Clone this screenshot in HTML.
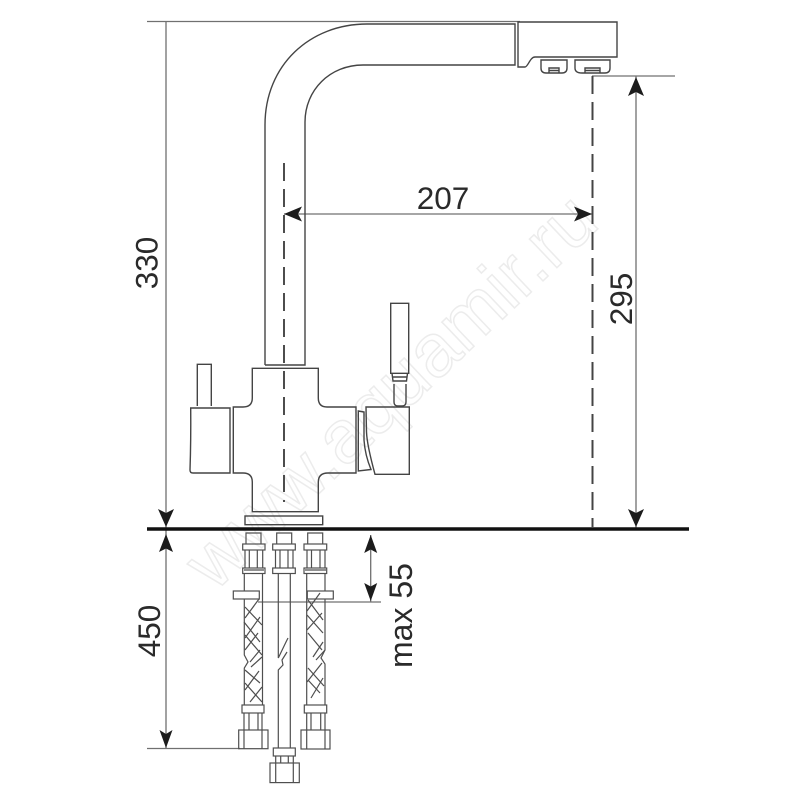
<!DOCTYPE html>
<html><head><meta charset="utf-8"><style>
html,body{margin:0;padding:0;background:#fff}
svg{display:block}
text{font-family:"Liberation Sans",sans-serif;fill:#2a2a2a;font-size:31.500px}
</style></head><body>
<svg width="800" height="800" viewBox="0 0 800 800" xmlns="http://www.w3.org/2000/svg">
<text transform="translate(408,409) rotate(-43.500)" text-anchor="middle" style="font-size:75px;fill:#fff;stroke:#ececec;stroke-width:1.500">www.aquamir.ru</text>
<g fill="none" stroke="#707070" stroke-width="1.300">
<path d="M147 21.500H520M166 21.500V528M166 530V748.500M147 748.500H240M592 76H675M636 76V528M284 214H592M370.700 535V602M258 602H381"/>
</g>
<g fill="#1c1c1c">
<path d="M166 527l-8 -18 8 4 8 -4z"/>
<path d="M166 534l-7 18 7-3.500 7 3.500z"/>
<path d="M166 748l-6.500 -18 6.500 4 6.500 -4z"/>
<path d="M636 527l-8 -18 8 4 8 -4z"/>
<path d="M636 77l-8 19 8-4 8 4z"/>
<path d="M370.700 535l-6.500 18 6.500-3.500 6.500 3.500z"/>
<path d="M370.700 601l-6.500-18 6.500 3.500 6.500-3.500z"/>
<path d="M284 214l18-7.500-4 7.500 4 7.500z"/>
<path d="M592 214l-18-7.500 4 7.500-4 7.500z"/>
</g>
<path d="M147 529H689" stroke="#111" stroke-width="3.600" fill="none"/>
<g fill="none" stroke="#444" stroke-width="1.400">
<path d="M265 365V125C265 65 310 24 367 24H515V65H363C330 65 305 90 305 122V365H265"/>
<path d="M518 22H617V57H535C530 57 528 67 525 67H518Z"/>
<path d="M541 60H567V68Q567 73 562 73H546Q541 73 541 68Z"/>
<path d="M575 60H610V68Q610 73 605 73H582Q575 73 575 68Z"/>
<path d="M549 73V68H559V73M549 70.500H559M585 73V68H600V73M585 70.500H600"/>
<path d="M252.300 368.300H318.300V398Q318.300 407 327 407H356V473H328Q318.300 473 318.300 482V511.700H252.300V482Q252.300 473 243 473H233.300V407H243Q252.300 407 252.300 398Z"/>
<path d="M190.700 408H230V473H193Q190 473 190 470Q191 440 190.700 408Z"/>
<path d="M197.300 406V364.300H211.300V406"/>
<path d="M358.300 411L364 412V440Q365 455 371 469.500L358.300 471Z"/>
<path d="M366 407H409.300V474.300H375Q367 445 366.500 432Z"/>
<path d="M390.700 373.300V303.300H408.700V373.300Z"/>
<path d="M392 373.300L393 381H406.500L407.500 373.300M392.500 377H407M394 384V402Q394 406 398 406H402Q406 406 406 402V384"/>
<rect x="245" y="516" width="77.700" height="8.700"/>
<path d="M284 163V492" stroke-dasharray="18 8" stroke-width="1.900"/>
<path d="M284 500V502" stroke-width="1.900"/>
<path d="M592.500 76V528" stroke-dasharray="18 8" stroke-width="2"/>
</g>
<g fill="none" stroke="#4f4f4f" stroke-width="1.200">
<!-- hose 1 -->
<path d="M246 544V533H261V544"/>
<rect x="242.700" y="544" width="22.300" height="6"/>
<rect x="242.700" y="568" width="22.300" height="5.500"/>
<path d="M245 550V568M249.300 550V568M257.300 550V568M262.700 550V568M244 570H264"/>
<path d="M244.300 573V655L248 662L244.300 668V705M262.500 573V705"/>
<rect x="233.300" y="591" width="26" height="8" fill="#fff"/>
<path d="M259 599L245 618M245 607L262 625M244 622L260 642M245 635L262 655M260 617L245 638M258 633L245 650M260 650L250 662M262 657L251 667M245 670L260 683M245 683L262 702M259 671L245 690M262 687L250 702"/>
<rect x="242" y="705" width="22" height="8"/>
<path d="M244 713V730M249 713V730M258 713V730M262 713V730"/>
<rect x="238.700" y="730" width="29.300" height="18.700"/>
<path d="M244 730V748.700M262 730V748.700"/>
<!-- hose 2 -->
<path d="M276.700 544V533H291.700V544"/>
<rect x="272.700" y="544" width="22.600" height="6"/>
<rect x="272.700" y="568" width="22.600" height="5.500"/>
<path d="M275.500 550V568M280 550V568M288 550V568M293 550V568"/>
<path d="M278.300 573V658L286 642L288 638M278.300 748V670L283 665L282 660L287 652M290.300 573V748"/>
<rect x="273.300" y="748" width="22" height="8"/>
<path d="M275.700 756V763M280.700 756V763M288.300 756V763M293.300 756V763"/>
<rect x="270" y="763" width="29.300" height="19.600"/>
<path d="M275.700 763V782.600M293.300 763V782.600"/>
<!-- hose 3 -->
<path d="M307.700 544V533H322.700V544"/>
<rect x="304" y="544" width="22.700" height="6"/>
<rect x="304" y="568" width="22.700" height="5.500"/>
<path d="M307 550V568M311.500 550V568M320 550V568M325 550V568M305 570H326"/>
<path d="M306.700 573V705M325 573V650L321 658L325 664V705"/>
<rect x="307.300" y="591" width="26" height="8" fill="#fff"/>
<path d="M320 593L307 611M308 600L323 620M307 615L323 633M322 613L307 630M308 633L322 650M323 642L313 657M325 650L316 660M308 668L324 686M322 663L307 682M308 680L320 693M323 678L311 698"/>
<rect x="304.300" y="705" width="22.400" height="8"/>
<path d="M306.700 713V730M311 713V730M320.700 713V730M325 713V730"/>
<rect x="301" y="730" width="29" height="19"/>
<path d="M306.700 730V749M325 730V749"/>
</g>
<text x="443" y="209" text-anchor="middle">207</text>
<text transform="translate(157.500,263) rotate(-90)" text-anchor="middle">330</text>
<text transform="translate(632,299) rotate(-90)" text-anchor="middle">295</text>
<text transform="translate(160,631) rotate(-90)" text-anchor="middle">450</text>
<text transform="translate(412,615.500) rotate(-90)" text-anchor="middle" style="font-size:32px">max 55</text>
</svg>
</body></html>
